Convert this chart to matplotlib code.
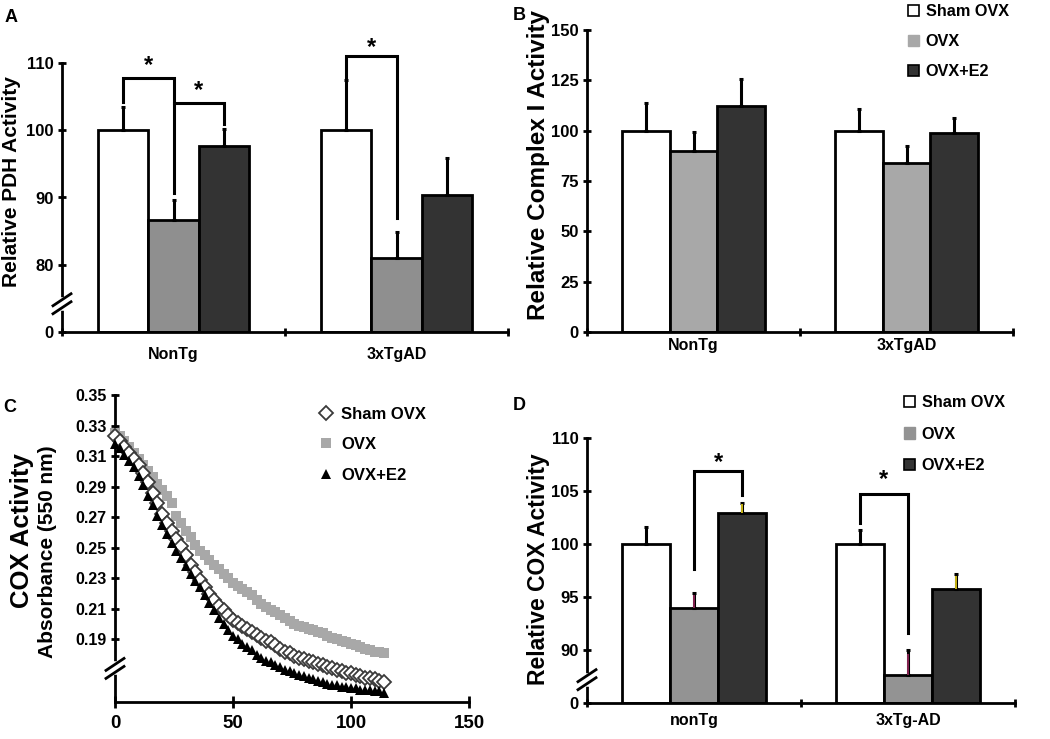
import matplotlib.pyplot as plt
from matplotlib.patches import Patch
import numpy as np

plt.rcParams['font.family'] = ['Liberation Sans', 'DejaVu Sans']
plt.rcParams['font.weight'] = 'bold'
plt.rcParams['axes.linewidth'] = 2

# ---- data ----
groups_ab = ['NonTg', '3xTgAD']
groups_d = ['nonTg', '3xTg-AD']
treatments = ['Sham OVX', 'OVX', 'OVX+E2']

# A: PDH activity
pdh_sham = [100, 100]
pdh_ovx = [86.7, 81.0]
pdh_e2 = [97.6, 90.3]
pdh_sham_err = [3.4, 7.5]
pdh_ovx_err = [2.9, 3.8]
pdh_e2_err = [2.6, 5.5]

# B: complex I activity
c1_sham = [100, 100]
c1_ovx = [90.0, 83.7]
c1_e2 = [112.2, 98.6]
c1_sham_err = [13.5, 10.7]
c1_ovx_err = [9.1, 8.8]
c1_e2_err = [13.4, 7.5]

# D: COX activity
cox_sham = [100, 100]
cox_ovx = [94.0, 87.6]
cox_e2 = [102.9, 95.8]
cox_sham_err = [1.6, 1.35]
cox_ovx_err = [1.35, 2.4]
cox_e2_err = [1.0, 1.4]

# C: absorbance time course
time = np.arange(0, 115, 2)
abs_sham = [0.323, 0.320, 0.316, 0.312, 0.308, 0.304, 0.299, 0.293, 0.286, 0.279,
            0.272, 0.266, 0.261, 0.256, 0.251, 0.245, 0.239, 0.234, 0.229, 0.224,
            0.220, 0.216, 0.212, 0.209, 0.206, 0.203, 0.201, 0.199, 0.197, 0.195,
            0.193, 0.191, 0.189, 0.188, 0.186, 0.184, 0.182, 0.181, 0.179, 0.178,
            0.177, 0.176, 0.175, 0.174, 0.173, 0.172, 0.171, 0.170, 0.169, 0.168,
            0.168, 0.167, 0.166, 0.165, 0.165, 0.164, 0.163, 0.162]
abs_ovx = [0.325, 0.323, 0.320, 0.316, 0.312, 0.308, 0.304, 0.300, 0.296, 0.292,
           0.288, 0.284, 0.279, 0.271, 0.266, 0.261, 0.257, 0.252, 0.248, 0.245,
           0.242, 0.239, 0.236, 0.233, 0.230, 0.227, 0.225, 0.223, 0.221, 0.219,
           0.216, 0.213, 0.211, 0.209, 0.208, 0.206, 0.204, 0.202, 0.200, 0.199,
           0.198, 0.197, 0.196, 0.195, 0.194, 0.192, 0.191, 0.190, 0.189, 0.188,
           0.187, 0.186, 0.185, 0.184, 0.183, 0.182, 0.182, 0.181]
abs_e2 = [0.318, 0.315, 0.311, 0.307, 0.303, 0.297, 0.291, 0.284, 0.278, 0.271,
          0.265, 0.259, 0.253, 0.248, 0.243, 0.238, 0.233, 0.228, 0.224, 0.219,
          0.214, 0.209, 0.204, 0.200, 0.196, 0.192, 0.190, 0.187, 0.185, 0.183,
          0.180, 0.178, 0.176, 0.175, 0.173, 0.172, 0.170, 0.169, 0.168, 0.167,
          0.166, 0.165, 0.164, 0.163, 0.162, 0.161, 0.160, 0.160, 0.159, 0.159,
          0.158, 0.158, 0.157, 0.157, 0.157, 0.156, 0.156, 0.155]

W, H = 1050, 739
fig = plt.figure(figsize=(W / 100, H / 100), dpi=100)


def px_axes(left, top, right, bottom):
    return fig.add_axes([left / W, 1 - bottom / H, (right - left) / W, (bottom - top) / H])


def clean(ax, ysize=12):
    ax.spines['top'].set_visible(False)
    ax.spines['right'].set_visible(False)
    ax.tick_params(axis='y', direction='inout', length=6, width=2, labelsize=ysize, pad=3)


def break_marks(ax, yfrac):
    # the two little slashes on the y axis
    pos = ax.get_position()
    w, h = pos.width * W, pos.height * H
    dx, dy, gap = 9 / w, 6 / h, 4 / h
    ax.plot([0, 0], [yfrac - gap, yfrac + gap], color='white', lw=4,
            transform=ax.transAxes, clip_on=False, zorder=6)
    for off in (-gap, gap):
        ax.plot([-dx, dx], [yfrac + off - dy, yfrac + off + dy], color='black', lw=2,
                transform=ax.transAxes, clip_on=False, zorder=7)


def bar_panel(ax, groups, means, errs, colors, base, xlabel_pad, ecolors=None):
    x = np.arange(len(groups))
    w = 0.225
    for i, (m, e, c) in enumerate(zip(means, errs, colors)):
        xi = x + (i - 1) * w
        ax.bar(xi, np.array(m) - base, w, bottom=base, color=c, edgecolor='black',
               linewidth=2, zorder=2)
        ax.errorbar(xi, m, yerr=[np.zeros(len(e)), e], fmt='none', ecolor='black',
                    elinewidth=2.2, capsize=1.5, capthick=2.2, zorder=3)
        if ecolors is not None and ecolors[i] is not None:
            ax.vlines(xi, m, np.array(m) + np.array(e) * 0.85, colors=ecolors[i], lw=1.2, zorder=4)
    ax.set_xlim(-0.5, len(groups) - 0.5)
    ax.set_xticks([-0.5, 0.5, 1.5])
    ax.set_xticklabels([])
    ax.set_xticks(x, minor=True)
    ax.set_xticklabels(groups, minor=True)
    ax.tick_params(axis='x', which='major', direction='inout', length=6, width=2)
    ax.tick_params(axis='x', which='minor', length=0, labelsize=11.5, pad=xlabel_pad)
    for lab in ax.get_xticklabels(minor=True):
        lab.set_fontweight('bold')


def bracket(ax, x1, x2, ytop, y1bot, y2bot, star_y):
    ax.plot([x1, x1, x2, x2], [y1bot, ytop, ytop, y2bot], color='black', lw=2.2,
            clip_on=False, zorder=5, solid_joinstyle='miter')
    ax.text((x1 + x2) / 2, star_y, '*', ha='center', va='center', fontsize=17,
            fontweight='bold', clip_on=False)


w = 0.225

# ---- A ----
axA = px_axes(62, 63, 508, 332)
clean(axA)
bar_panel(axA, groups_ab, [pdh_sham, pdh_ovx, pdh_e2], [pdh_sham_err, pdh_ovx_err, pdh_e2_err],
          ['white', '#8f8f8f', '#333333'], 70, 11)
axA.set_ylim(70, 110)
axA.set_yticks([70, 80, 90, 100, 110])
axA.set_yticklabels(['0', '80', '90', '100', '110'])
axA.set_ylabel('Relative PDH Activity', fontsize=15, fontweight='bold')
axA.yaxis.set_label_coords(-0.092, 0.558)
break_marks(axA, (74.2 - 70) / 40)
bracket(axA, -w, 0, 107.8, 104.2, 90.7, 109.6)
bracket(axA, 0, w, 104.0, 104.0, 101.0, 105.9)
bracket(axA, 1 - w, 1, 111.0, 107.9, 86.9, 112.3)

# ---- B ----
axB = px_axes(587, 30, 1013, 332)
clean(axB)
bar_panel(axB, groups_ab, [c1_sham, c1_ovx, c1_e2], [c1_sham_err, c1_ovx_err, c1_e2_err],
          ['white', '#a8a8a8', '#333333'], 0, 4)
axB.set_ylim(0, 150)
axB.set_yticks(np.arange(0, 151, 25))
axB.set_ylabel('Relative Complex I Activity', fontsize=17.5, fontweight='bold')
axB.yaxis.set_label_coords(-0.087, 0.553)
axB.legend(handles=[Patch(facecolor='white', edgecolor='black', lw=1.2),
                    Patch(facecolor='#a8a8a8', edgecolor='#a8a8a8'),
                    Patch(facecolor='#333333', edgecolor='black', lw=1.2)],
           labels=treatments, loc='upper left', bbox_to_anchor=(908 / W, 1 - 4 / H),
           bbox_transform=fig.transFigure, frameon=False, fontsize=11.7,
           handlelength=0.7, handleheight=0.7, handletextpad=0.4, labelspacing=0.93,
           borderpad=0, borderaxespad=0)

# ---- C ----
axC = px_axes(115, 395, 469, 702)
clean(axC, ysize=11.5)
axC.plot(time, abs_ovx, 's', color='#a8a8a8', ms=7.5, mew=0, clip_on=False, label='OVX', zorder=3)
axC.plot(time, abs_sham, 'D', mfc='white', mec='#3a3a3a', ms=7.5, mew=1.3, clip_on=False,
         label='Sham OVX', zorder=4)
axC.plot(time, abs_e2, '^', color='black', ms=7.5, mew=0, clip_on=False, label='OVX+E2', zorder=5)
axC.set_xlim(0, 150)
axC.set_ylim(0.149, 0.35)
axC.set_xticks([0, 50, 100, 150])
axC.set_yticks(np.arange(0.19, 0.351, 0.02))
axC.set_yticklabels(['%.2f' % v for v in np.arange(0.19, 0.351, 0.02)])
axC.tick_params(axis='x', direction='inout', length=8, width=2, labelsize=13.5, pad=5)
axC.set_ylabel('Absorbance (550 nm)', fontsize=15, fontweight='bold')
axC.yaxis.set_label_coords(-0.164, 0.489)
axC.text(-0.229, 0.557, 'COX Activity', transform=axC.transAxes, rotation=90,
         rotation_mode='anchor', ha='center', va='bottom', fontsize=18.5, fontweight='bold')
break_marks(axC, (0.171 - 0.149) / (0.35 - 0.149))
hs, ls = axC.get_legend_handles_labels()
order = [1, 0, 2]
axC.legend([hs[i] for i in order], [ls[i] for i in order], loc='upper left',
           bbox_to_anchor=(318 / W, 1 - 407 / H), bbox_transform=fig.transFigure,
           frameon=False, fontsize=12, handlelength=1.0, handletextpad=0.4,
           labelspacing=0.92, borderpad=0, borderaxespad=0, numpoints=1)

# ---- D ----
axD = px_axes(587, 438, 1015, 703)
clean(axD)
bar_panel(axD, groups_d, [cox_sham, cox_ovx, cox_e2], [cox_sham_err, cox_ovx_err, cox_e2_err],
          ['white', '#939393', '#333333'], 85, 7, ecolors=[None, '#9b2a5e', '#e8d21a'])
axD.set_ylim(85, 110)
axD.set_yticks([85, 90, 95, 100, 105, 110])
axD.set_yticklabels(['0', '90', '95', '100', '105', '110'])
axD.set_ylabel('Relative COX Activity', fontsize=16.5, fontweight='bold')
axD.yaxis.set_label_coords(-0.086, 0.506)
break_marks(axD, (87.2 - 85) / 25)
bracket(axD, 0, w, 106.85, 97.6, 104.6, 107.7)
bracket(axD, 1 - w, 1, 104.7, 102.0, 91.6, 106.1)
axD.legend(handles=[Patch(facecolor='white', edgecolor='black', lw=1.2),
                    Patch(facecolor='#939393', edgecolor='#939393'),
                    Patch(facecolor='#333333', edgecolor='black', lw=1.2)],
           labels=treatments, loc='upper left', bbox_to_anchor=(904 / W, 1 - 395 / H),
           bbox_transform=fig.transFigure, frameon=False, fontsize=11.7,
           handlelength=0.7, handleheight=0.7, handletextpad=0.4, labelspacing=1.02,
           borderpad=0, borderaxespad=0)

# panel letters
for letter, (px, py) in zip('ABCD', [(5, 22), (513, 20), (3, 412), (513, 410)]):
    fig.text(px / W, 1 - py / H, letter, fontsize=13, fontweight='bold', ha='left', va='baseline')

fig.savefig('out.png', dpi=100)
